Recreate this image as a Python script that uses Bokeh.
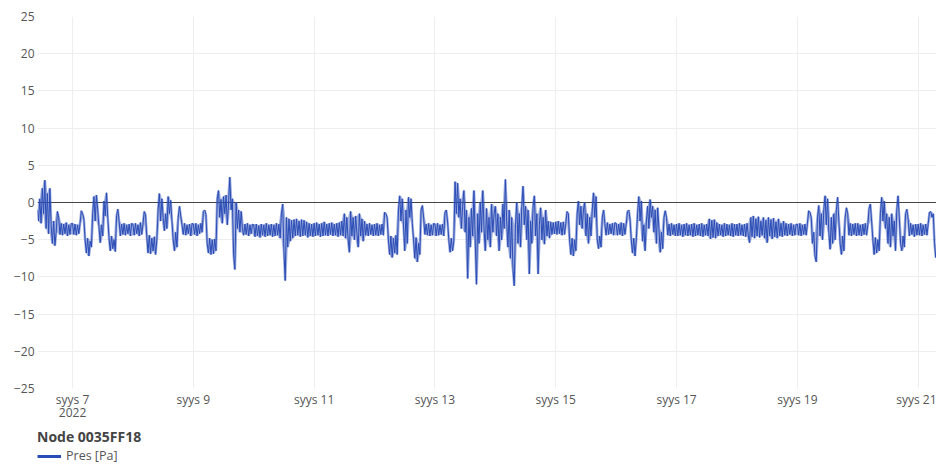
import numpy as np
import pandas as pd
from bokeh.plotting import figure
from bokeh.layouts import column
from bokeh.models import Range1d, FixedTicker, Span, Legend, LegendItem
from bokeh.embed import file_html
from bokeh.resources import INLINE

# Differential pressure [Pa] of node 0035FF18, half-hourly readings per day
sep06 = [-1.0, -2.5, 0.5, -2.8, 1.9, -1.5, 3.0, -3.5, 1.2, -4.2, 1.9, -3.0, -5.5, -2.5,
         -5.8, -4.0, -1.2, -2.0, -4.3, -2.8, -4.4, -2.9, -4.2, -2.7, -4.5, -3.0, -4.3, -2.8]
sep07 = [-2.8, -4.3, -2.9, -4.4, -3.0, -4.2, -2.8, -1.1, -1.5, -2.2,
         -5.0, -6.8, -4.8, -7.2, -5.2, -6.0,
         -1.5, 0.8, -2.5, 1.0, -1.0, -3.2,
         -5.4, -3.0, -4.5,
         0.2, -1.8, 1.3, -2.0,
         -4.8, -6.5, -4.5, -6.2, -5.0, -6.6,
         -1.8, -0.9, -2.5,
         -4.5, -2.9, -4.3, -2.8, -4.4, -3.0, -4.2, -2.9, -4.5, -2.8]
sep08 = [-2.9, -4.4, -2.8, -4.2, -3.0, -4.5, -2.7, -4.3, -2.9,
         -1.2, -1.6,
         -4.5, -6.8, -4.4, -6.9, -4.8, -6.5, -4.6, -7.0, -5.0,
         -1.0, 1.2, -2.5, 0.5, -2.0,
         -3.8, -1.5, -3.5,
         0.8, -1.5, 0.3, -2.5,
         -5.0, -6.5, -4.0, -6.0,
         -2.0, -0.5, -1.8, -3.0,
         -4.3, -2.8, -4.4, -3.0, -4.2, -2.9, -4.5, -2.8]
sep09 = [-2.9, -4.3, -2.8, -4.5, -3.0, -4.2, -2.8, -4.0,
         -1.2, -1.0, -1.6,
         -5.5, -6.8, -4.8, -7.0, -5.0, -6.9, -4.9, -6.5,
         0.5, 1.6, -2.0, 0.4, -2.8, 0.8, -1.5, 1.0, -3.0, 0.0, 3.4, -1.0, 0.5, -7.0, -9.0,
         0.0, -3.5, -1.0, -4.0, -1.2, -3.5,
         -4.4, -2.9, -4.3, -2.8, -4.5, -3.0, -4.2, -2.9]
sep10 = [-3.0, -4.6, -2.9, -4.5, -3.1, -4.7, -2.9, -4.4, -3.0, -4.6, -2.8, -4.5, -3.0, -4.4,
         -2.9, -4.6, -3.0, -4.5, -2.8, -4.4, -2.9,
         -4.8, -1.5, -0.2, -6.5, -10.5, -2.0, -6.0, -2.2, -5.2, -2.4, -4.8,
         -2.3, -4.5, -2.2, -4.4, -2.5, -4.6, -2.3, -4.5, -2.4, -4.4, -2.6, -4.7, -2.8, -4.5,
         -2.9, -4.6]
sep11 = [-2.8, -4.5, -2.7, -4.4, -2.9, -4.6, -2.8, -4.5, -2.6, -4.4, -2.9, -4.5, -2.8, -4.3,
         -2.7, -4.5, -2.9, -4.4, -2.8, -4.6, -2.7, -4.4, -2.5, -4.5,
         -1.5, -4.8, -2.0, -5.0, -6.7, -1.2, -4.5, -2.0, -5.0, -1.8, -4.2, -6.0, -1.5, -4.5,
         -2.2, -5.2, -2.5,
         -4.4, -2.9, -4.5, -2.8, -4.3, -3.0, -4.5]
sep12 = [-2.9, -4.4, -2.8, -4.5, -3.0, -4.3, -2.9, -4.4,
         -1.3, -1.5, -2.0,
         -5.0, -7.0, -4.5, -7.4, -4.8, -6.8, -4.4, -7.0,
         -1.0, 0.9, -2.5, 0.5,
         -3.0, -6.5, -1.0, -5.5,
         0.7, -2.0, 0.5, -2.8,
         -5.0, -7.5, -4.7, -8.0, -5.5, -7.0,
         -1.0, -0.4, -2.0,
         -4.3, -2.9, -4.4, -2.8, -4.5, -3.0, -4.4, -2.8]
sep13 = [-2.9, -4.5, -2.8, -4.4, -3.0, -4.3, -2.9, -4.5,
         -1.3, -1.0, -2.5,
         -5.0, -6.7, -4.8, -6.5, -5.2,
         2.8, -1.5, 2.6, -2.0, 0.5, -3.5, -0.5, 1.6, -4.0, -1.0,
         -10.2, -2.0, -6.0, -0.8, -4.5, 1.6, -5.0, -11.0, -1.5, -5.5,
         0.0, -4.0, 1.6, -3.5, -6.5, -0.8, -5.0, -2.0, -6.0, -0.2,
         -4.0, -1.5]
sep14 = [-0.5, -4.5, -1.5, -6.5, -2.0, -5.0, -0.2, -3.5, 3.1, -2.5,
         -6.0, -1.0, -7.5, -2.0, -9.0, -11.2, -3.0, 0.0, -5.5, -1.5,
         -6.0, -0.5, 2.2, -3.0, -0.5, -5.0, -1.0, -9.6, -2.5, -5.5,
         -0.5, 0.9, -4.5, -1.5, -9.6, -3.0, -0.7, -5.0, -2.0, -5.6,
         -1.0, -4.5, -2.5, -4.8, -2.6, -4.3, -2.7, -4.2]
sep15 = [-2.6, -4.3, -2.5, -4.2, -2.7, -4.4, -2.6, -4.3, -2.8,
         -1.2, -1.5,
         -5.0, -7.0, -4.8, -7.2, -5.0, -6.5,
         -1.5, 0.2, -3.0, -0.5, -3.5, -1.0, 0.0, -4.5, -1.5, -5.5, -2.0, -4.5, -1.0,
         1.3, -2.0, 0.8,
         -5.0, -6.2, -4.5, -6.0,
         -2.0, -1.0,
         -2.8, -4.4, -2.7, -4.3, -2.9, -4.2, -2.8, -4.4, -2.7]
sep16 = [-2.8, -4.4, -2.9, -4.3, -2.7, -4.5, -2.8, -4.3, -2.9,
         -1.2, -1.0, -2.2,
         -5.0, -6.8, -4.8, -7.2, -5.0,
         -1.5, 0.8, -2.5, 0.2, -5.2, -3.0, -6.5, -2.5, -0.5, -3.5,
         0.4, -2.0, -0.5, -4.0, -1.0, -5.5, -0.7, -3.5, -6.7, -4.0,
         -6.2, -2.0, -1.1, -2.0,
         -4.4, -2.9, -4.5, -2.8, -4.3, -3.0, -4.5]
sep17 = [-2.9, -4.5, -2.8, -4.4, -3.0, -4.6, -2.9, -4.4, -2.8, -4.5,
         -3.0, -4.4, -2.9, -4.6, -2.8, -4.5, -3.0, -4.4, -2.9, -4.5,
         -2.8, -4.6, -3.0, -4.4, -2.9, -4.5, -2.2, -4.9, -2.4, -4.7, -2.3, -4.8, -2.7,
         -4.5, -2.9, -4.4, -3.0, -4.6, -2.8, -4.5, -2.9, -4.4, -3.0, -4.5, -2.8, -4.6,
         -2.9, -4.4]
sep18 = [-2.9, -4.5, -2.8, -4.4, -3.0, -4.5, -2.9, -4.6, -2.8, -4.4,
         -5.4, -2.0, -4.6, -1.8, -4.8, -2.2, -4.5, -1.9, -4.7, -2.5,
         -4.4, -2.0, -4.8, -2.4, -5.4, -2.0, -4.5, -2.3, -4.9, -2.1,
         -4.6, -2.6, -4.8, -2.2, -4.5, -2.8, -4.6, -2.5, -4.4,
         -2.8, -4.5, -2.9, -4.3, -2.8, -4.5, -3.0, -4.4, -2.9]
sep19 = [-2.9, -4.4, -2.8, -4.5, -3.0, -4.3, -2.9, -4.4, -2.8,
         -1.1, -1.3, -2.0,
         -5.5, -4.0, -7.2, -8.0,
         -2.0, -0.4, -4.5, -1.5, -5.0, -1.0, 0.9, -3.0, 0.5, -4.0,
         -6.3, -2.0, -5.5, -1.5, -5.0, -1.0, 0.7, -2.5, -5.5, -7.0,
         -4.5, -6.5, -2.0, -0.7, -1.5,
         -4.4, -2.8, -4.5, -2.9, -4.3, -2.8, -4.5]
sep20 = [-2.8, -4.4, -3.0, -4.5, -2.9, -4.3, -2.8, -4.4, -3.0,
         -0.8, -0.2, -2.5,
         -5.0, -7.0, -4.7, -6.8, -5.0, -6.5,
         -1.5, 0.7, -2.5, 0.2, -3.5, -1.5, -5.5, -2.0, -6.0, -1.5,
         -4.5, -2.5, -6.5, -1.0, 0.9, -2.0, -5.5, -6.5, -4.5, -6.0,
         -1.5, -0.9, -2.2,
         -4.5, -2.8, -4.3, -3.0, -4.6, -2.9, -4.4]
sep21 = [-2.9, -4.4, -2.8, -4.5, -3.0, -4.3, -2.9, -4.4, -2.8, -1.3, -1.2, -2.0, -1.5,
         -5.5, -7.4, -6.0]

day_starts = ["2022-09-06 10:00", "2022-09-07", "2022-09-08", "2022-09-09", "2022-09-10",
              "2022-09-11", "2022-09-12", "2022-09-13", "2022-09-14", "2022-09-15",
              "2022-09-16", "2022-09-17", "2022-09-18", "2022-09-19", "2022-09-20",
              "2022-09-21"]
day_values = [sep06, sep07, sep08, sep09, sep10, sep11, sep12, sep13, sep14, sep15,
              sep16, sep17, sep18, sep19, sep20, sep21]

tick_dates = ["2022-09-07", "2022-09-09", "2022-09-11", "2022-09-13", "2022-09-15",
              "2022-09-17", "2022-09-19", "2022-09-21"]
tick_labels = ["syys 7\n2022", "syys 9", "syys 11", "syys 13", "syys 15",
               "syys 17", "syys 19", "syys 21"]
y_ticks = [-25, -20, -15, -10, -5, 0, 5, 10, 15, 20, 25]

series_name = "Pres [Pa]"
node_name = "Node 0035FF18"

BLUE = "#2a4cb6"
FONT = "Open Sans"

# half-hourly timestamps for every day block
times, pres = [], []
for start, vals in zip(day_starts, day_values):
    t0 = pd.Timestamp(start)
    times.extend(t0 + pd.Timedelta(minutes=30 * i) for i in range(len(vals)))
    pres.extend(vals)

# band swept by the trace between neighbouring readings
v = np.asarray(pres)
padded = np.pad(v, 1, mode="edge")
sweep_hi = np.maximum.reduce([padded[:-2], padded[1:-1], padded[2:]])
sweep_lo = np.minimum.reduce([padded[:-2], padded[1:-1], padded[2:]])

p = figure(
    frame_width=899, frame_height=372,
    x_axis_type="datetime",
    x_range=Range1d(pd.Timestamp("2022-09-06 10:05"), pd.Timestamp("2022-09-21 07:17")),
    y_range=Range1d(-25, 25),
    output_backend="svg", toolbar_location=None,
    min_border_left=37, min_border_right=0, min_border_top=16, min_border_bottom=36,
)
p.outline_line_color = None
p.background_fill_color = "white"
p.border_fill_color = "white"

# x axis: every second day
tick_ms = [int(pd.Timestamp(d).value // 10**6) for d in tick_dates]
xt = FixedTicker(ticks=tick_ms)
p.xaxis.ticker = xt
p.xaxis.major_label_overrides = {t: lab for t, lab in zip(tick_ms, tick_labels)}
p.xgrid.ticker = xt

yt = FixedTicker(ticks=y_ticks)
p.yaxis.ticker = yt
p.yaxis.major_label_overrides = {v: str(v).replace("-", "\u2212") for v in y_ticks}
p.ygrid.ticker = yt

for ax in (p.xaxis[0], p.yaxis[0]):
    ax.axis_line_color = None
    ax.major_tick_line_color = None
    ax.minor_tick_line_color = None
    ax.major_tick_out = 0
    ax.major_tick_in = 0
    ax.minor_tick_out = 0
    ax.minor_tick_in = 0
    ax.major_label_text_font = FONT
    ax.major_label_text_font_size = "12px"
    ax.major_label_text_color = "#555555"
p.xaxis.major_label_standoff = 2
p.xaxis.major_label_text_line_height = 0.8
p.yaxis.major_label_standoff = 3

for g in (p.xgrid[0], p.ygrid[0]):
    g.grid_line_color = "#eeeeee"
    g.grid_line_width = 1

p.add_layout(Span(location=0, dimension="width", line_color="#444444",
                  line_width=1, level="underlay"))

p.varea(x=times, y1=sweep_lo, y2=sweep_hi, fill_color=BLUE, fill_alpha=0.45)
p.line(times, pres, line_color=BLUE, line_width=1)

# legend strip underneath the chart
leg_fig = figure(
    width=936, height=42, x_range=(0, 1), y_range=(0, 1),
    output_backend="svg", toolbar_location=None,
    min_border_left=37, min_border_right=0, min_border_top=3, min_border_bottom=0,
)
leg_fig.axis.visible = False
leg_fig.grid.visible = False
leg_fig.outline_line_color = None
leg_fig.border_fill_color = "white"
# swatch renderer kept outside the strip's visible range; only its legend glyph shows
swatch = leg_fig.line([2, 3], [2, 3], line_color=BLUE, line_width=3)
legend = Legend(
    items=[LegendItem(label=series_name, renderers=[swatch])],
    title=node_name,
    location="top_left",
    title_text_font=FONT, title_text_font_size="14px", title_text_font_style="bold",
    title_text_color="#444444", title_standoff=1,
    label_text_font=FONT, label_text_font_size="12.5px", label_text_color="#555555",
    glyph_width=24, glyph_height=12, label_standoff=5, label_height=12,
    padding=0, margin=0, spacing=0,
    border_line_color=None, background_fill_alpha=0,
)
leg_fig.add_layout(legend)

layout = column(p, leg_fig, spacing=0)
open("out.html", "w").write(file_html(layout, INLINE))
